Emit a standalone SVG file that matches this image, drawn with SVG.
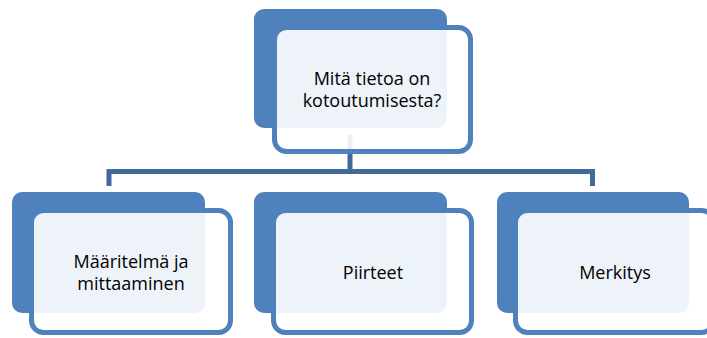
<svg xmlns="http://www.w3.org/2000/svg" width="707" height="338" viewBox="0 0 707 338">
<style>
.back{fill:#4F81BD}
.front{fill:#FFFFFF;fill-opacity:0.9;stroke:#4F81BD;stroke-width:5}
.conn{fill:none;stroke:#41699B;stroke-width:5}
text{font-family:"Open Sans","Liberation Sans",sans-serif;font-size:18px;fill:#000;text-anchor:middle}
</style>
<rect width="707" height="338" fill="#FFFFFF"/>
<g id="connectors">
<path class="conn" d="M350,135 V171.5 M109,186 V171.5 H592.5 V186"/>
</g>
<g id="node-top">
<rect class="back" x="254" y="9" width="193" height="119" rx="10"/>
<rect class="front" x="274.5" y="27.5" width="196" height="124" rx="12"/>
<text x="372" y="85">Mitä tietoa on</text>
<text x="372" y="107">kotoutumisesta?</text>
</g>
<g id="node-left">
<rect class="back" x="12" y="192" width="193" height="121" rx="10"/>
<rect class="front" x="31.5" y="210.5" width="199" height="122" rx="12"/>
<text x="131" y="268">Määritelmä ja</text>
<text x="131" y="290">mittaaminen</text>
</g>
<g id="node-middle">
<rect class="back" x="254" y="192" width="193" height="121" rx="10"/>
<rect class="front" x="273.5" y="210.5" width="198" height="122" rx="12"/>
<text x="373" y="279">Piirteet</text>
</g>
<g id="node-right">
<rect class="back" x="497" y="192" width="192" height="121" rx="10"/>
<rect class="front" x="515.5" y="210.5" width="198" height="122" rx="12"/>
<text x="615" y="279">Merkitys</text>
</g>
</svg>
